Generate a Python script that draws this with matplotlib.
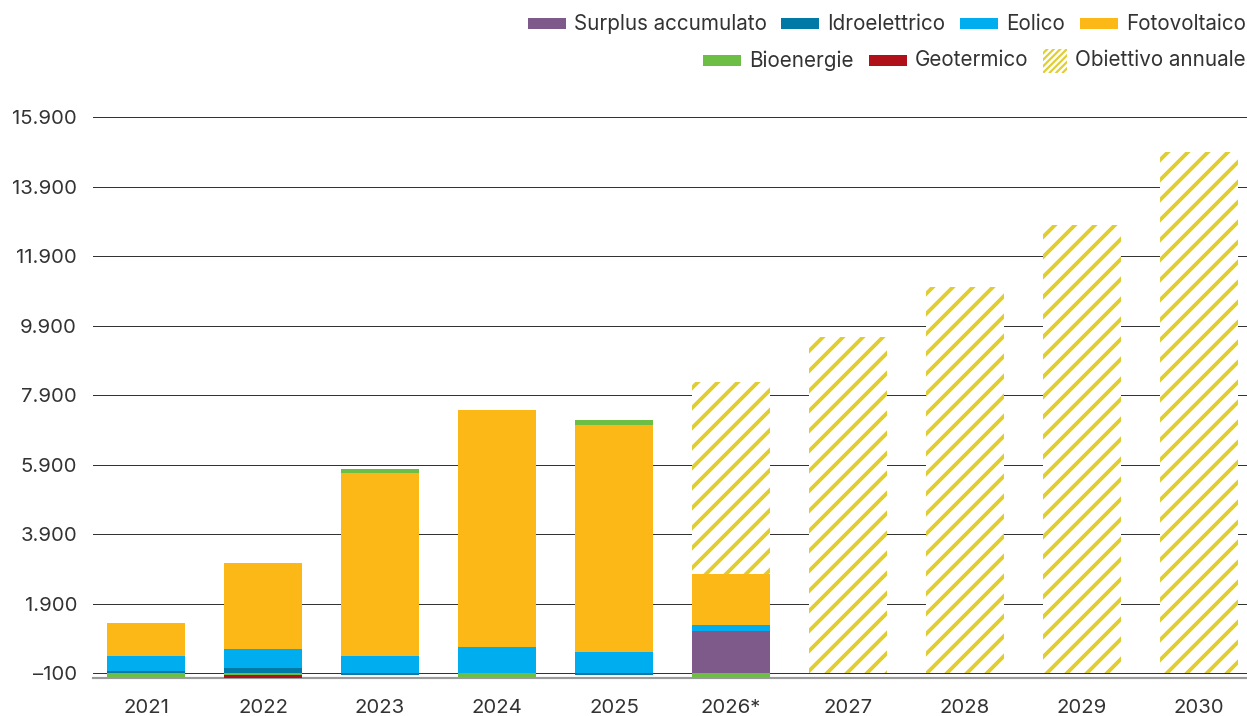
import matplotlib
matplotlib.use("Agg")
import matplotlib.pyplot as plt
from matplotlib.patches import Rectangle
from matplotlib.lines import Line2D
import numpy as np

# Annual renewable capacity additions (MW) and yearly targets
years = ["2021", "2022", "2023", "2024", "2025", "2026*", "2027", "2028", "2029", "2030"]
surplus = [0, 0, 0, 0, 0, 1210, 0, 0, 0, 0]
idroelettrico = [75, 145, -50, 0, -45, 0, 0, 0, 0, 0]
eolico = [430, 550, 490, 750, 605, 175, 0, 0, 0, 0]
fotovoltaico = [950, 2475, 5290, 6820, 6530, 1470, 0, 0, 0, 0]
bioenergie = [-100, -30, 90, -100, 145, -100, 0, 0, 0, 0]
geotermico = [0, -90, 0, 0, 0, 0, 0, 0, 0, 0]
obiettivo = [0, 0, 0, 0, 0, 8370, 9665, 11130, 12890, 14990]

tick_values = [-100, 1900, 3900, 5900, 7900, 9900, 11900, 13900, 15900]
tick_labels = ["–100", "1.900", "3.900", "5.900", "7.900", "9.900", "11.900", "13.900", "15.900"]
baseline = -100

series = [
    ("Surplus accumulato", surplus, "#7E5A8A"),
    ("Idroelettrico", idroelettrico, "#0079A6"),
    ("Eolico", eolico, "#00AEEF"),
    ("Fotovoltaico", fotovoltaico, "#FBB817"),
    ("Bioenergie", bioenergie, "#6DBE45"),
    ("Geotermico", geotermico, "#B0101A"),
]
target_label = "Obiettivo annuale"
hatch_color = "#E0CE30"
text_color = "#333333"

W, H, DPI = 1247, 716, 120
plt.rcParams["font.family"] = ["Inter", "DejaVu Sans"]
plt.rcParams["hatch.linewidth"] = 2.3
FS = 12.2
FS_LEG = 12.4

fig = plt.figure(figsize=(W / DPI, H / DPI), dpi=DPI)
ax = fig.add_axes([93 / W, (H - 678) / H, 1 - 93 / W, (678 - 115.5) / H])
ax.set_xlim(-0.453, 9.41)
ax.set_ylim(-230, 15950)

x = np.arange(len(years))
bw = 0.667

# yearly targets: hatched bars behind the achieved capacity
ax.bar(x, obiettivo, bottom=baseline, width=bw, color="white",
       edgecolor=hatch_color, hatch="//", linewidth=0, zorder=2)

pos = np.zeros(len(years))
neg = np.zeros(len(years))
for name, vals, col in series:
    v = np.array(vals, dtype=float)
    bottoms = np.where(v >= 0, pos, neg) + baseline
    ax.bar(x, v, bottom=bottoms, width=bw, color=col, linewidth=0, zorder=3)
    pos += np.where(v > 0, v, 0)
    neg += np.where(v < 0, v, 0)

ax.set_yticks(tick_values, tick_labels)
ax.set_xticks(x, years)
ax.yaxis.grid(True, color="#333333", linewidth=0.6)
ax.set_axisbelow(True)
ax.tick_params(axis="y", length=0, pad=9.6, labelsize=FS, labelcolor=text_color)
ax.tick_params(axis="x", length=0, pad=12.8, labelsize=FS, labelcolor=text_color)
for s in ["top", "right", "left"]:
    ax.spines[s].set_visible(False)
ax.spines["bottom"].set_color("#9a9a9a")
ax.spines["bottom"].set_linewidth(1.3)

# legend, two right-aligned rows
renderer = fig.canvas.get_renderer()


def fx(px):
    return px / W


def fy(py):
    return 1 - py / H


def legend_row(items, y_px, right_px):
    xr = right_px
    for label, col in reversed(items):
        t = fig.text(fx(xr), fy(y_px), label, ha="right", va="center",
                     fontsize=FS_LEG, color=text_color)
        w = t.get_window_extent(renderer).width
        xr -= w + 8
        if col is None:
            size = 24
            x0, y0 = xr - size, H - y_px - size / 2
            box = Rectangle((fx(x0), (y0) / H), size / W, size / H,
                            transform=fig.transFigure, facecolor="none",
                            edgecolor="none")
            fig.add_artist(box)
            for k in range(-4, 5):
                ln = Line2D([fx(x0 + k * 6.5), fx(x0 + k * 6.5 + size)],
                            [y0 / H, (y0 + size) / H],
                            transform=fig.transFigure, color=hatch_color,
                            linewidth=1.3)
                ln.set_clip_path(box)
                fig.add_artist(ln)
            xr -= size + 15
        else:
            pw, ph = 38, 11
            fig.add_artist(Rectangle((fx(xr - pw), (H - y_px - ph / 2) / H),
                                     pw / W, ph / H, transform=fig.transFigure,
                                     facecolor=col, edgecolor="none"))
            xr -= pw + 15


row1 = [(series[i][0], series[i][2]) for i in range(4)]
row2 = [(series[4][0], series[4][2]), (series[5][0], series[5][2]), (target_label, None)]
legend_row(row1, 23.5, 1246)
legend_row(row2, 60.5, 1246)

fig.savefig("out.png", dpi=DPI)
